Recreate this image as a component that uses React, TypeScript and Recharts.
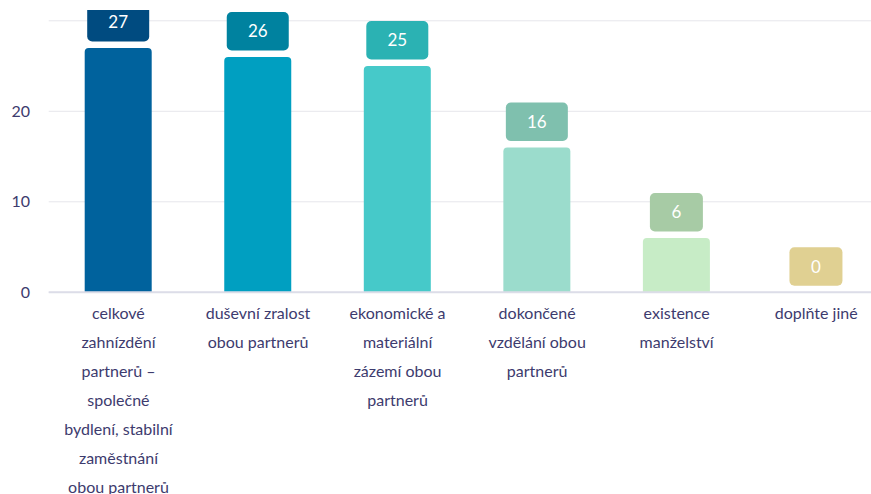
import { BarChart, Bar, XAxis, YAxis, CartesianGrid, Cell, Rectangle } from 'recharts';

const categories = [
  'celkové zahnízdění partnerů – společné bydlení, stabilní zaměstnání obou partnerů',
  'duševní zralost obou partnerů',
  'ekonomické a materiální zázemí obou partnerů',
  'dokončené vzdělání obou partnerů',
  'existence manželství',
  'doplňte jiné',
];

const tickLines = [
  ['celkové', 'zahnízdění', 'partnerů –', 'společné', 'bydlení, stabilní', 'zaměstnání', 'obou partnerů'],
  ['duševní zralost', 'obou partnerů'],
  ['ekonomické a', 'materiální', 'zázemí obou', 'partnerů'],
  ['dokončené', 'vzdělání obou', 'partnerů'],
  ['existence', 'manželství'],
  ['doplňte jiné'],
];

const values = [27, 26, 25, 16, 6, 0];

const yTicks = [0, 10, 20];

const barColors = ['#00629d', '#009fc1', '#46c9c9', '#9bdccc', '#c7ecc6', '#e3d7a0'];
const boxColors = ['#004b80', '#00829f', '#2bb2b3', '#7fc0ae', '#a7cba5', '#e0d092'];

const data = categories.map((name, i) => ({ name, value: values[i] }));

const textColor = '#3d3b6e';
const font = 'Lato, "Noto Sans", sans-serif';

const XTick = (props: any) => {
  const { x, y, index } = props;
  const lines = tickLines[index] || [];
  return (
    <text x={x} y={y} textAnchor="middle" fill={textColor} fontSize={16} fontFamily={font}>
      {lines.map((l, i) => (
        <tspan key={i} x={x} dy={i === 0 ? 27 : 29}>
          {l}
        </tspan>
      ))}
    </text>
  );
};

// bar plus the rounded value box sitting above it
const BarWithBox = (props: any) => {
  const { x, y, width, height, index, payload } = props;
  const label = String(payload.value);
  const w = 44 + label.length * 9;
  const h = 38.5;
  const cx = x + width / 2;
  const bottom = y - 6.5;
  return (
    <g>
      {height > 0 && (
        <Rectangle x={x} y={y} width={width} height={height} radius={[4, 4, 0, 0]} fill={barColors[index]} />
      )}
      <rect x={cx - w / 2} y={bottom - h} width={w} height={h} rx={5} ry={5} fill={boxColors[index]} />
      <text
        x={cx}
        y={bottom - h / 2 + 6}
        textAnchor="middle"
        fill="#ffffff"
        fontSize={17}
        fontFamily={font}
      >
        {label}
      </text>
    </g>
  );
};

export default function App() {
  return (
    <div style={{ position: 'absolute', left: 0, top: 0, width: 871, height: 494, overflow: 'hidden', background: '#fff' }}>
      <div style={{ marginTop: 10 }}>
        <BarChart
          width={890}
          height={484}
          data={data}
          margin={{ top: 10.8, right: 4, left: 0, bottom: 0 }}
        >
          <CartesianGrid vertical={false} stroke="#e6e6ec" />
          <XAxis
            dataKey="name"
            interval={0}
            height={201.7}
            tickLine={false}
            tickSize={0}
            tickMargin={0}
            axisLine={{ stroke: '#dcdde8', strokeWidth: 2 }}
            tick={<XTick />}
          />
          <YAxis
            width={48.7}
            domain={[0, 30]}
            ticks={yTicks}
            axisLine={false}
            tickLine={false}
            tickSize={0}
            tickMargin={18.7}
            tick={{ fill: textColor, fontSize: 16, fontFamily: font }}
          />
          <Bar dataKey="value" barSize={67} isAnimationActive={false} shape={<BarWithBox />}>
            {data.map((d, i) => (
              <Cell key={d.name} fill={barColors[i]} />
            ))}
          </Bar>
        </BarChart>
      </div>
    </div>
  );
}
